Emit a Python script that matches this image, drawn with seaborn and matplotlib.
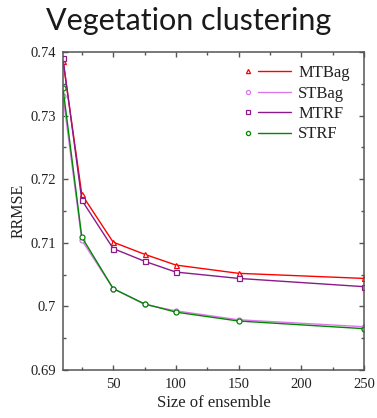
import numpy as np
import pandas as pd
import seaborn as sns
import matplotlib
matplotlib.use("Agg")
import matplotlib.pyplot as plt
from matplotlib.lines import Line2D
from matplotlib.legend_handler import HandlerBase
from matplotlib.ticker import MultipleLocator, FuncFormatter

# Ensemble sizes and RRMSE per method
sizes = [10, 25, 50, 75, 100, 150, 250]
mtbag = [0.7386, 0.7176, 0.7101, 0.7082, 0.7065, 0.7052, 0.7044]
stbag = [0.7331, 0.7104, 0.7028, 0.7003, 0.6993, 0.6979, 0.6968]
mtrf = [0.7390, 0.7167, 0.7091, 0.7071, 0.7054, 0.7044, 0.7031]
strf = [0.7343, 0.7109, 0.7028, 0.7004, 0.6991, 0.6977, 0.6965]

methods = ["MTBag", "STBag", "MTRF", "STRF"]
colors = {"MTBag": "#ff0000", "STBag": "#dd77ee", "MTRF": "#8b1a8b", "STRF": "#008800"}
markers = {"MTBag": "^", "STBag": "o", "MTRF": "s", "STRF": "o"}

df = pd.concat([
    pd.DataFrame({"size": sizes, "rrmse": vals, "method": name})
    for name, vals in zip(methods, [mtbag, stbag, mtrf, strf])
])

sns.set_theme(style="white")
plt.rcParams["font.family"] = ["Liberation Serif", "DejaVu Serif"]

fig = plt.figure(figsize=(3.77, 4.18), dpi=100)
ax = fig.add_axes([63 / 377, 1 - 370 / 418, (364 - 63) / 377, (370 - 52) / 418])

LW = 1.0
sns.lineplot(data=df, x="size", y="rrmse", hue="method", style="method",
             palette=colors, markers=markers, dashes=False, hue_order=methods,
             style_order=methods, legend=False, ax=ax, linewidth=LW,
             markersize=3.6, mew=0.9)
for line in ax.lines:
    line.set_markeredgecolor(line.get_color())
    line.set_markerfacecolor("white")

ax.set_xlim(10, 250)
ax.set_ylim(0.69, 0.74)
ax.xaxis.set_major_locator(MultipleLocator(50))
ax.xaxis.set_minor_locator(MultipleLocator(25))
ax.yaxis.set_major_locator(MultipleLocator(0.01))
ax.yaxis.set_minor_locator(MultipleLocator(0.005))
ax.yaxis.set_major_formatter(FuncFormatter(lambda v, p: f"{v:g}"))
ax.tick_params(which="both", direction="in", top=True, right=True,
               bottom=True, left=True, color="#555555", width=1.0,
               labelsize=10.5, labelcolor="#222222")
ax.tick_params(axis="x", pad=6)
ax.tick_params(axis="y", pad=5)
ax.tick_params(which="major", length=3.5)
ax.tick_params(which="minor", length=2)
for sp in ax.spines.values():
    sp.set_color("#555555")
    sp.set_linewidth(1.1)

ax.set_xlabel("Size of ensemble", fontsize=12, color="#222222")
ax.set_ylabel("RRMSE", fontsize=11.5, color="#222222")
ax.xaxis.set_label_coords(0.5, -(403 - 370) / 318, transform=ax.transAxes)
ax.xaxis.label.set_va("center")
ax.yaxis.set_label_coords(-(63 - 19) / 301, 0.5, transform=ax.transAxes)
ax.yaxis.label.set_va("center")

fig.text(0.5, 1 - 30 / 418, "Vegetation clustering", ha="center", va="baseline",
         fontsize=22, family=["Lato", "DejaVu Sans"], weight="normal",
         color="#1a1a1a")


class MarkerThenLine(HandlerBase):
    """Sample marker on the left, a short line segment to its right."""

    def create_artists(self, legend, orig_handle, xdescent, ydescent,
                       width, height, fontsize, trans):
        mk, ln = orig_handle
        y = height / 2 - ydescent
        seg = Line2D([0.30 * width - xdescent, width - xdescent], [y, y],
                     color=ln.get_color(), linewidth=ln.get_linewidth(),
                     transform=trans)
        dot = Line2D([0.08 * width - xdescent], [y], linestyle="none",
                     marker=mk.get_marker(), markersize=mk.get_markersize(),
                     markeredgecolor=mk.get_markeredgecolor(),
                     markerfacecolor="white", markeredgewidth=0.9,
                     transform=trans)
        return [seg, dot]


handles = []
for m in methods:
    mk = Line2D([], [], linestyle="none", marker=markers[m], markersize=3.0,
                mec=colors[m])
    ln = Line2D([], [], color=colors[m], linewidth=LW)
    handles.append((mk, ln))
ax.legend(handles, methods, handler_map={tuple: MarkerThenLine()},
          loc="upper left", bbox_to_anchor=(244 / 377, 1 - 65 / 418),
          bbox_transform=fig.transFigure, frameon=False, fontsize=12,
          handlelength=2.8, handletextpad=0.45, labelspacing=0.27,
          borderpad=0, borderaxespad=0, labelcolor="#222222")

fig.savefig("out.png", dpi=100)
